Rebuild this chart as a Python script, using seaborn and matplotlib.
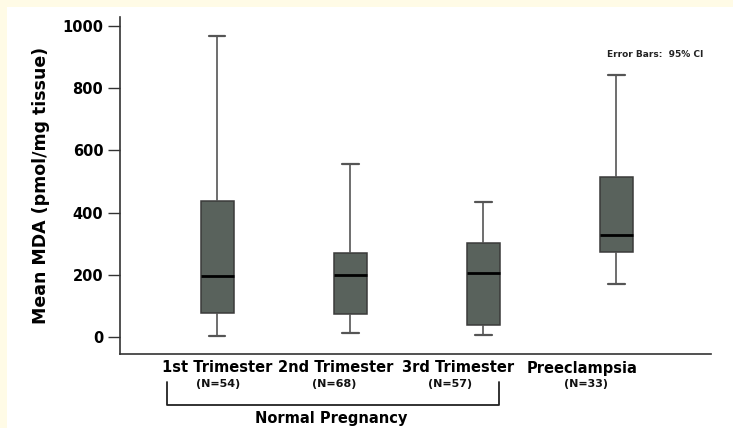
import matplotlib
matplotlib.use("Agg")
import matplotlib.pyplot as plt
import matplotlib.transforms as mtransforms
from matplotlib.patches import Rectangle
import numpy as np
import pandas as pd
import seaborn as sns

# Five-number summaries (whisker low, Q1, median, Q3, whisker high), pmol/mg tissue
groups = ["1st Trimester", "2nd Trimester", "3rd Trimester", "Preeclampsia"]
counts = ["(N=54)", "(N=68)", "(N=57)", "(N=33)"]
whisker_low = [4, 12, 7, 170]
q1 = [79, 75, 39, 272]
median = [197, 199, 206, 328]
q3 = [436, 271, 303, 513]
whisker_high = [967, 557, 435, 843]

rows = []
for g, lo, a, m, b, hi in zip(groups, whisker_low, q1, median, q3, whisker_high):
    for v in (lo, a, m, b, hi):
        rows.append({"group": g, "mda": v})
df = pd.DataFrame(rows)

sns.set_theme(style="ticks")
plt.rcParams["font.family"] = ["DejaVu Sans"]
plt.rcParams["text.color"] = "#000000"

W, H = 733, 428
fig = plt.figure(figsize=(W / 100, H / 100), dpi=100, facecolor="#fffbe6")
# white panel inside the cream frame
fig.patches.append(Rectangle((7 / W, 0), 1, 1 - 7 / H, transform=fig.transFigure,
                             facecolor="white", edgecolor="none", zorder=-1))

ax = fig.add_axes([120 / W, 74 / H, (711 - 120) / W, (411 - 74) / H])
ax.set_facecolor("white")

sns.boxplot(
    data=df, x="group", y="mda", order=groups, ax=ax, width=0.25, whis=np.inf,
    color="#59625c", saturation=1, linewidth=1.1, linecolor="#3a3a3a",
    showfliers=False,
    boxprops=dict(facecolor="#59625c", edgecolor="#3a3a3a"),
    whiskerprops=dict(color="#555555", linewidth=1.2),
    capprops=dict(color="#555555", linewidth=1.6),
    medianprops=dict(color="#000000", linewidth=2.0),
)

ax.set_xlim(-0.73, 3.71)
ax.set_ylim(-54, 1028)
ax.set_yticks([0, 200, 400, 600, 800, 1000])
ax.set_yticklabels(["0", "200", "400", "600", "800", "1000"], fontsize=10.5,
                   fontweight="bold", color="#000000")
ax.tick_params(axis="y", length=9, width=1, color="#333333", pad=3)
ax.tick_params(axis="x", length=0)
ax.set_xticks([])
ax.set_xlabel("")
ax.set_ylabel("Mean MDA (pmol/mg tissue)", fontsize=12.5, fontweight="bold",
              labelpad=9, color="#000000")

for side in ("top", "right"):
    ax.spines[side].set_visible(False)
for side in ("left", "bottom"):
    ax.spines[side].set_color("#333333")
    ax.spines[side].set_linewidth(1.2)

# category labels and group sizes below the axis
label_x = [0.0, 0.887, 1.81, 2.74]
count_x = [0.008, 0.88, 1.75, 2.77]
tr = mtransforms.blended_transform_factory(ax.transData, fig.transFigure)
for g, n, lx, cx in zip(groups, counts, label_x, count_x):
    ax.text(lx, 1 - 368 / H, g, transform=tr, ha="center", va="center",
            fontsize=10.5, fontweight="bold", color="#000000", clip_on=False)
    ax.text(cx, 1 - 384 / H, n, transform=tr, ha="center", va="center",
            fontsize=8, fontweight="bold", color="#111111", clip_on=False)

# bracket grouping the three trimesters
bx0, bx1 = -0.376, 2.12
y_top, y_bot = 1 - 382 / H, 1 - 405 / H
ax.plot([bx0, bx0, bx1, bx1], [y_top, y_bot, y_bot, y_top], transform=tr,
        color="#222222", linewidth=1.3, clip_on=False)
ax.text(0.857, 1 - 418 / H, "Normal Pregnancy", transform=tr,
        ha="center", va="center", fontsize=10.5, fontweight="bold",
        color="#000000", clip_on=False)

ax.text(3.29, 909, "Error Bars:  95% CI", ha="center", va="center",
        fontsize=6.5, fontweight="bold", color="#222222")

fig.savefig("out.png", dpi=100, facecolor=fig.get_facecolor())
